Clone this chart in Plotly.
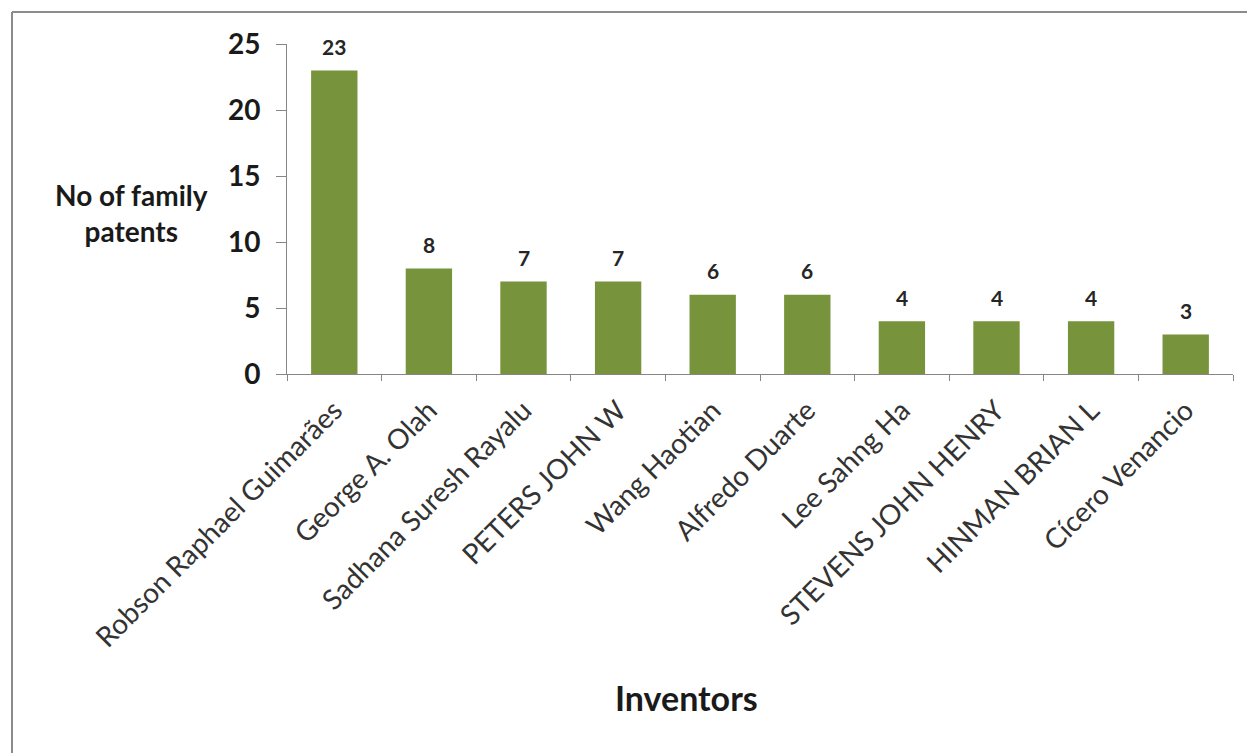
import plotly.graph_objects as go

inventors = [
    "Robson Raphael Guimarães",
    "George A. Olah",
    "Sadhana Suresh Rayalu",
    "PETERS JOHN W",
    "Wang Haotian",
    "Alfredo Duarte",
    "Lee Sahng Ha",
    "STEVENS JOHN HENRY",
    "HINMAN BRIAN L",
    "Cícero Venancio",
]
patents = [23, 8, 7, 7, 6, 6, 4, 4, 4, 3]
y_ticks = [0, 5, 10, 15, 20, 25]

FONT = "Lato"
W, H = 1247, 753
L, R, T, B = 287, 14, 44, 379
pw, ph = W - L - R, H - T - B


def px_x(px):
    return (px - L) / pw


def px_y(py):
    return (H - B - py) / ph


fig = go.Figure(
    go.Bar(
        x=inventors,
        y=patents,
        marker=dict(color="#77933C", line=dict(width=0)),
        cliponaxis=False,
    )
)

# value labels above each bar
for name, val in zip(inventors, patents):
    fig.add_annotation(
        x=name, y=val, xref="x", yref="y",
        text=str(val),
        showarrow=False,
        xanchor="center", yanchor="middle",
        yshift=24,
        font=dict(family=FONT, size=21, color="#262626", weight="bold"),
    )

fig.update_layout(
    width=W,
    height=H,
    margin=dict(l=L, r=R, t=T, b=B),
    paper_bgcolor="white",
    plot_bgcolor="white",
    bargap=0.51,
    showlegend=False,
    font=dict(family=FONT),
)

fig.update_xaxes(
    type="category",
    tickangle=-45,
    tickson="boundaries",
    ticks="outside",
    ticklen=6,
    tickcolor="#868686",
    showline=True,
    linecolor="#868686",
    linewidth=1,
    showgrid=False,
    ticklabelstandoff=8,
    tickfont=dict(family=FONT, size=28, color="#333333"),
)

fig.update_yaxes(
    range=[0, 25],
    tickvals=y_ticks,
    ticks="outside",
    ticklen=10,
    tickcolor="#868686",
    showline=True,
    linecolor="#868686",
    linewidth=1,
    showgrid=False,
    zeroline=False,
    ticklabelstandoff=10,
    tickfont=dict(family=FONT, size=28, color="#1a1a1a", weight="bold"),
)

fig.add_annotation(
    text="No of family<br>patents",
    xref="paper", yref="paper",
    x=px_x(131), y=px_y(213),
    xanchor="center", yanchor="middle",
    showarrow=False,
    align="center",
    font=dict(family=FONT, size=28, color="#1a1a1a", weight="bold"),
)

fig.add_annotation(
    text="Inventors",
    xref="paper", yref="paper",
    x=px_x(686), y=px_y(697),
    xanchor="center", yanchor="middle",
    showarrow=False,
    font=dict(family=FONT, size=34, color="#1a1a1a", weight="bold"),
)

# outer frame edges (top and left)
frame = dict(color="#8c8c8c", width=2)
fig.add_shape(type="line", xref="paper", yref="paper",
              x0=px_x(12), x1=px_x(W + 5), y0=px_y(12), y1=px_y(12), line=frame)
fig.add_shape(type="line", xref="paper", yref="paper",
              x0=px_x(12), x1=px_x(12), y0=px_y(12), y1=px_y(H + 5), line=frame)

fig.write_html("out.html")
